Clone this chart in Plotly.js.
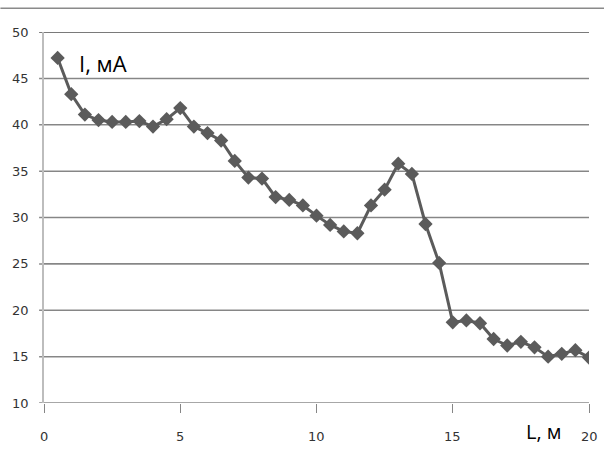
<!DOCTYPE html>
<html>
<head>
<meta charset="utf-8">
<script src="https://cdn.plot.ly/plotly-3.0.1.min.js"></script>
<style>html,body{margin:0;padding:0;background:#fff;}#chart{width:604px;height:457px;}</style>
</head>
<body>
<div id="chart"></div>
<script>
const lengthM = [0.5,1,1.5,2,2.5,3,3.5,4,4.5,5,5.5,6,6.5,7,7.5,8,8.5,9,9.5,10,10.5,11,11.5,12,12.5,13,13.5,14,14.5,15,15.5,16,16.5,17,17.5,18,18.5,19,19.5,20];
const currentMA = [47.2,43.3,41.1,40.5,40.3,40.3,40.4,39.8,40.6,41.8,39.8,39.1,38.3,36.1,34.3,34.2,32.2,31.9,31.3,30.2,29.2,28.5,28.3,31.3,33.0,35.8,34.7,29.3,25.1,18.7,18.9,18.6,16.9,16.2,16.6,16.0,15.0,15.3,15.7,14.9];
const xTicks = [0,5,10,15,20];
const yTicks = [10,15,20,25,30,35,40,45,50];

const trace = {
  x: lengthM, y: currentMA, type: 'scatter', mode: 'lines+markers',
  line: {color: '#5b5b5b', width: 3},
  marker: {symbol: 'diamond', size: 11, color: '#5b5b5b'},
  hoverinfo: 'none'
};
const tickFont = {family: 'DejaVu Sans', size: 13, color: '#333'};
const gridShapes = yTicks.map(v => ({
  type: 'line', xref: 'paper', yref: 'y', x0: -0.009, x1: 1, y0: v, y1: v,
  layer: 'below', line: {color: v === 50 ? '#7a7a7a' : '#8a8a8a', width: v === 50 ? 2 : 1.5}
}));
const xLabelAnns = xTicks.map(v => ({
  text: String(v), xref: 'x', yref: 'paper', x: v, y: 0, xanchor: 'center', yanchor: 'top',
  yshift: -24, showarrow: false, font: tickFont
}));
const layout = {
  width: 604, height: 457,
  margin: {l: 44, r: 15, t: 32, b: 54},
  paper_bgcolor: '#fff', plot_bgcolor: '#fff',
  showlegend: false,
  xaxis: {
    range: [0, 20], tickmode: 'array', tickvals: xTicks, ticktext: xTicks.map(String),
    showgrid: false, zeroline: false, showline: false, showticklabels: false,
    ticks: 'outside', ticklen: 9, tickcolor: '#868686', tickwidth: 1
  },
  yaxis: {
    range: [10, 50], tickmode: 'array', tickvals: yTicks,
    ticktext: yTicks.map(v => String(v) + '\u00a0\u00a0\u2009'),
    showgrid: true, gridcolor: '#868686', gridwidth: 1, zeroline: false,
    showline: true, linecolor: '#bdbdbd', linewidth: 2,
    ticks: '', tickfont: tickFont
  },
  shapes: [
    {type: 'line', xref: 'paper', yref: 'paper', x0: -0.08, x1: 1.03, y0: 1.0638, y1: 1.0638,
     line: {color: '#8a8a8a', width: 1.5}}
  ].concat(gridShapes),
  annotations: [
    {text: 'I, мА', xref: 'x', yref: 'y', x: 1.2, y: 46.7, xanchor: 'left', yanchor: 'middle',
     showarrow: false, font: {family: 'Open Sans', size: 22, color: '#000'}},
    {text: 'L, м', xref: 'x', yref: 'paper', x: 17.6, y: -0.077, xanchor: 'left', yanchor: 'middle',
     showarrow: false, font: {family: 'Open Sans', size: 20, color: '#000'}}
  ].concat(xLabelAnns)
};
Plotly.newPlot('chart', [trace], layout, {staticPlot: true, displayModeBar: false});
</script>
</body>
</html>
